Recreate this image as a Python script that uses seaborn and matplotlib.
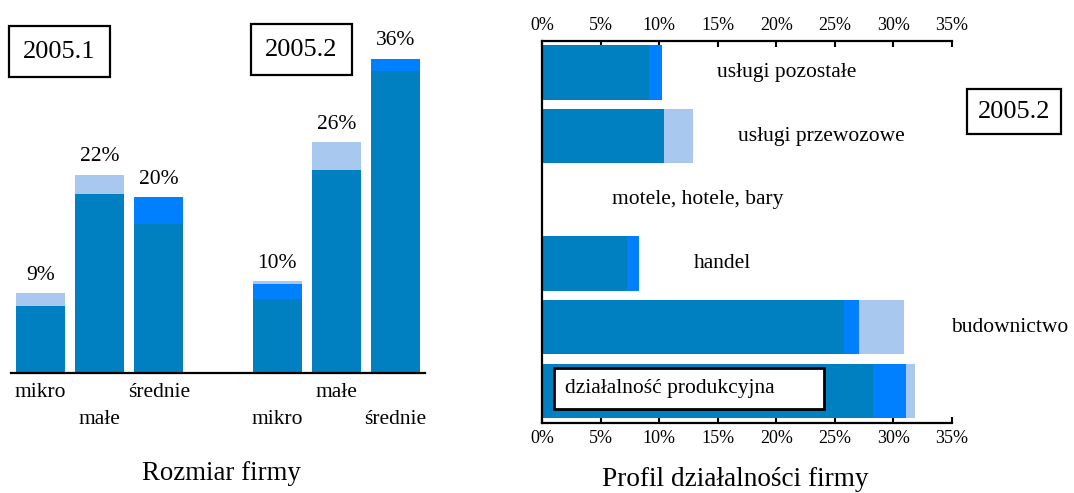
import numpy as np
import pandas as pd
import matplotlib.pyplot as plt
import seaborn as sns
from matplotlib.patches import Rectangle

# --- data (percent of firms) ---
sizes = ['mikro', 'małe', 'średnie']
dark_2005_1 = [7.7, 20.5, 17.1]
bright_2005_1 = [0.0, 0.0, 3.0]
light_2005_1 = [1.4, 2.2, 0.0]
labels_2005_1 = ['9%', '22%', '20%']

dark_2005_2 = [8.5, 23.3, 34.6]
bright_2005_2 = [1.7, 0.0, 1.4]
light_2005_2 = [0.3, 3.1, 0.0]
labels_2005_2 = ['10%', '26%', '36%']

activities = ['usługi pozostałe', 'usługi przewozowe', 'motele, hotele, bary',
              'handel', 'budownictwo', 'działalność produkcyjna']
act_dark = [9.15, 10.4, 0.0, 7.25, 25.8, 28.3]
act_bright = [1.05, 0.0, 0.0, 1.05, 1.3, 2.8]
act_light = [0.0, 2.5, 0.0, 0.0, 3.8, 0.8]
pct_ticks = [0, 5, 10, 15, 20, 25, 30, 35]

C_DARK = '#0080C0'
C_BRIGHT = '#0080FF'
C_LIGHT = '#A8C8F0'

sns.set_theme(style='white')
plt.rcParams['font.family'] = ['Liberation Serif', 'DejaVu Serif']
plt.rcParams['text.color'] = 'black'

fig = plt.figure(figsize=(10.74, 4.93), dpi=100)

# ---------------- left: Rozmiar firmy ----------------
ax1 = fig.add_axes([11 / 1074, 1 - 372.7 / 493, 414 / 1074, 348.8 / 493])

left = pd.DataFrame({
    'pos': [0, 1, 2, 4, 5, 6],
    'dark': dark_2005_1 + dark_2005_2,
    'bright': bright_2005_1 + bright_2005_2,
    'light': light_2005_1 + light_2005_2,
})
left['c_bright'] = left['dark'] + left['bright']
left['c_light'] = left['c_bright'] + left['light']

for col, color in [('c_light', C_LIGHT), ('c_bright', C_BRIGHT), ('dark', C_DARK)]:
    sns.barplot(data=left, x='pos', y=col, color=color, native_scale=True,
                width=0.83, saturation=1, errorbar=None, linewidth=0, ax=ax1)

ax1.set_xlim(-0.5, 6.5)
ax1.set_ylim(0, 40)
ax1.set_xticks([])
ax1.set_yticks([])
ax1.set_xlabel('')
ax1.set_ylabel('')
for s in ['top', 'right', 'left']:
    ax1.spines[s].set_visible(False)
ax1.spines['bottom'].set_linewidth(1.6)
ax1.spines['bottom'].set_color('black')

for pos, tot, lab in zip(left['pos'], left['c_light'], labels_2005_1 + labels_2005_2):
    ax1.annotate(lab, (pos, tot), xytext=(0, 6), textcoords='offset points',
                 ha='center', va='bottom', fontsize=15.5)

rows = [0, 1, 0, 1, 0, 1]
for pos, name, row in zip(left['pos'], sizes + sizes, rows):
    dy = -14 if row == 0 else -34
    ax1.annotate(name, (pos, 0), xytext=(0, dy), textcoords='offset points',
                 ha='center', va='center', fontsize=15.5, annotation_clip=False)

box = dict(boxstyle='square,pad=0.55', facecolor='white', edgecolor='black', linewidth=1.6)
fig.text(59.5 / 1074, 1 - 51.5 / 493, '2005.1', ha='center', va='center', fontsize=19, bbox=box)
fig.text(301.5 / 1074, 1 - 49.5 / 493, '2005.2', ha='center', va='center', fontsize=19, bbox=box)
fig.text(221.5 / 1074, 1 - 474 / 493, 'Rozmiar firmy', ha='center', va='center', fontsize=19.3)

# ---------------- right: Profil działalności firmy ----------------
ax2 = fig.add_axes([542.3 / 1074, 1 - 422.7 / 493, 409.4 / 1074, 382 / 493])

right = pd.DataFrame({'activity': activities, 'dark': act_dark,
                      'bright': act_bright, 'light': act_light})
right['c_bright'] = right['dark'] + right['bright']
right['c_light'] = right['c_bright'] + right['light']

for col, color in [('c_light', C_LIGHT), ('c_bright', C_BRIGHT), ('dark', C_DARK)]:
    sns.barplot(data=right, y='activity', x=col, order=activities, orient='h',
                color=color, width=0.85, saturation=1, errorbar=None, linewidth=0, ax=ax2)

ax2.set_xlim(0, 35)
ax2.set_ylim(5.5, -0.5)
ax2.set_yticks([])
ax2.set_xlabel('')
ax2.set_ylabel('')
ax2.set_xticks(pct_ticks)
ax2.set_xticklabels([f'{t}%' for t in pct_ticks])
ax2.tick_params(axis='x', top=True, labeltop=True, bottom=True, labelbottom=True,
                direction='in', length=4, width=1.5, color='black',
                labelsize=13, pad=5, labelcolor='black')
ax2.spines['right'].set_visible(False)
for s in ['left', 'top', 'bottom']:
    ax2.spines[s].set_linewidth(1.6)
    ax2.spines[s].set_color('black')

label_x = [20.9, 23.9, 13.3, 15.4, 40.0]
for i, xx in enumerate(label_x):
    ax2.text(xx, i, activities[i], ha='center', va='center', fontsize=15.5, clip_on=False)

ax2.add_patch(Rectangle((1.0, 4.64), 23.1, 0.65, facecolor='white',
                        edgecolor='black', linewidth=2, zorder=5))
ax2.text(1.95, 4.96, activities[5], ha='left', va='center', fontsize=15.5, zorder=6)

fig.text(1014 / 1074, 1 - 111.5 / 493, '2005.2', ha='center', va='center', fontsize=19,
         bbox=dict(boxstyle='square,pad=0.42', facecolor='white', edgecolor='black', linewidth=1.6))
fig.text(735 / 1074, 1 - 479 / 493, 'Profil działalności firmy', ha='center', va='center',
         fontsize=19.6)

plt.savefig('out.png', dpi=100)
